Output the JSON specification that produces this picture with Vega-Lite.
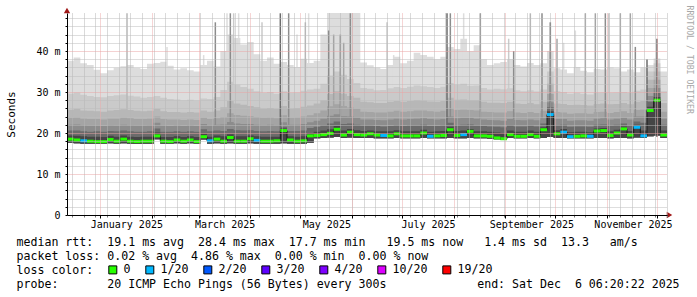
{
 "$schema": "https://vega.github.io/schema/vega-lite/v6.json",
 "width": 600,
 "height": 202,
 "autosize": {"type": "none"},
 "padding": {"left": 67, "top": 13, "right": 30, "bottom": 82},
 "background": "#ffffff",
 "config": {"view": {"stroke": null}, "font": "DejaVu Sans Mono"},
 "datasets": {
  "smoke": [
   {"t":"2024-12-12","lo":17.6,"p1":37.6,"p2":29.6,"p3":25.7,"p4":23.7,"p5":22.0,"p6":20.6,"p7":19.4,"md":18.5,"loss":"0"},
   {"t":"2024-12-16","lo":17.5,"p1":38.4,"p2":29.9,"p3":25.9,"p4":23.8,"p5":22.1,"p6":20.6,"p7":19.3,"md":18.3,"loss":"0"},
   {"t":"2024-12-20","lo":17.4,"p1":37.0,"p2":29.3,"p3":25.5,"p4":23.5,"p5":21.9,"p6":20.4,"p7":19.2,"md":18.1,"loss":"1/20"},
   {"t":"2024-12-24","lo":17.4,"p1":36.6,"p2":29.0,"p3":25.4,"p4":23.4,"p5":21.8,"p6":20.3,"p7":19.1,"md":18.0,"loss":"0"},
   {"t":"2024-12-28","lo":17.4,"p1":35.4,"p2":28.8,"p3":25.3,"p4":23.4,"p5":21.8,"p6":20.4,"p7":19.1,"md":17.9,"loss":"0"},
   {"t":"2025-01-01","lo":17.4,"p1":34.6,"p2":28.7,"p3":25.2,"p4":23.3,"p5":21.7,"p6":20.3,"p7":19.0,"md":17.9,"loss":"0"},
   {"t":"2025-01-05","lo":17.5,"p1":35.3,"p2":29.0,"p3":25.5,"p4":23.5,"p5":21.9,"p6":20.5,"p7":19.3,"md":18.4,"loss":"0"},
   {"t":"2025-01-09","lo":17.4,"p1":35.9,"p2":29.2,"p3":25.6,"p4":23.5,"p5":21.8,"p6":20.4,"p7":19.1,"md":18.0,"loss":"0"},
   {"t":"2025-01-13","lo":17.5,"p1":36.3,"p2":29.4,"p3":25.8,"p4":23.7,"p5":22.0,"p6":20.6,"p7":19.4,"md":18.5,"loss":"0"},
   {"t":"2025-01-17","lo":17.4,"p1":36.6,"p2":29.1,"p3":25.6,"p4":23.6,"p5":21.9,"p6":20.4,"p7":19.1,"md":18.0,"loss":"0"},
   {"t":"2025-01-21","lo":17.3,"p1":35.9,"p2":28.9,"p3":25.4,"p4":23.4,"p5":21.8,"p6":20.3,"p7":19.0,"md":17.9,"loss":"0"},
   {"t":"2025-01-25","lo":17.4,"p1":35.6,"p2":28.6,"p3":25.3,"p4":23.4,"p5":21.8,"p6":20.3,"p7":19.1,"md":18.0,"loss":"0"},
   {"t":"2025-01-29","lo":17.4,"p1":36.9,"p2":28.8,"p3":25.4,"p4":23.5,"p5":21.9,"p6":20.4,"p7":19.1,"md":18.0,"loss":"0"},
   {"t":"2025-02-02","lo":18.5,"p1":37.1,"p2":29.0,"p3":25.9,"p4":24.0,"p5":22.5,"p6":21.1,"p7":20.1,"md":19.3,"loss":"0"},
   {"t":"2025-02-06","lo":17.4,"p1":37.4,"p2":28.6,"p3":25.3,"p4":23.4,"p5":21.8,"p6":20.3,"p7":19.0,"md":18.0,"loss":"0"},
   {"t":"2025-02-10","lo":17.4,"p1":36.4,"p2":28.3,"p3":25.1,"p4":23.3,"p5":21.7,"p6":20.3,"p7":19.0,"md":17.9,"loss":"0"},
   {"t":"2025-02-14","lo":17.5,"p1":35.5,"p2":28.2,"p3":25.1,"p4":23.3,"p5":21.8,"p6":20.4,"p7":19.2,"md":18.3,"loss":"0"},
   {"t":"2025-02-18","lo":17.4,"p1":35.8,"p2":28.0,"p3":25.0,"p4":23.2,"p5":21.7,"p6":20.3,"p7":19.0,"md":18.0,"loss":"0"},
   {"t":"2025-02-22","lo":17.5,"p1":35.3,"p2":28.1,"p3":25.1,"p4":23.3,"p5":21.8,"p6":20.4,"p7":19.2,"md":18.3,"loss":"0"},
   {"t":"2025-02-26","lo":17.4,"p1":35.0,"p2":27.9,"p3":25.0,"p4":23.2,"p5":21.7,"p6":20.3,"p7":19.0,"md":17.9,"loss":"0"},
   {"t":"2025-03-02","lo":18.4,"p1":36.6,"p2":28.4,"p3":25.5,"p4":23.7,"p5":22.2,"p6":20.9,"p7":19.8,"md":19.1,"loss":"0"},
   {"t":"2025-03-06","lo":17.4,"p1":37.6,"p2":28.3,"p3":25.2,"p4":23.4,"p5":21.8,"p6":20.4,"p7":19.1,"md":18.1,"loss":"1/20"},
   {"t":"2025-03-10","lo":17.5,"p1":36.2,"p2":28.8,"p3":25.5,"p4":23.6,"p5":22.0,"p6":20.6,"p7":19.4,"md":18.5,"loss":"0"},
   {"t":"2025-03-14","lo":17.4,"p1":40.0,"p2":30.5,"p3":26.3,"p4":23.9,"p5":22.1,"p6":20.5,"p7":19.2,"md":18.0,"loss":"0"},
   {"t":"2025-03-18","lo":17.5,"p1":44.0,"p2":32.5,"p3":27.8,"p4":24.8,"p5":22.7,"p6":21.0,"p7":19.7,"md":18.9,"loss":"0"},
   {"t":"2025-03-22","lo":17.4,"p1":43.2,"p2":31.8,"p3":27.2,"p4":24.4,"p5":22.3,"p6":20.7,"p7":19.2,"md":18.0,"loss":"0"},
   {"t":"2025-03-26","lo":17.4,"p1":41.6,"p2":31.2,"p3":26.9,"p4":24.2,"p5":22.2,"p6":20.6,"p7":19.2,"md":18.0,"loss":"0"},
   {"t":"2025-03-30","lo":17.5,"p1":42.2,"p2":30.8,"p3":26.6,"p4":24.1,"p5":22.2,"p6":20.7,"p7":19.4,"md":18.6,"loss":"0"},
   {"t":"2025-04-03","lo":17.4,"p1":39.2,"p2":30.2,"p3":26.3,"p4":23.9,"p5":22.0,"p6":20.5,"p7":19.2,"md":18.2,"loss":"1/20"},
   {"t":"2025-04-07","lo":17.4,"p1":37.6,"p2":29.8,"p3":26.0,"p4":23.7,"p5":21.9,"p6":20.4,"p7":19.1,"md":18.0,"loss":"0"},
   {"t":"2025-04-11","lo":17.4,"p1":38.4,"p2":30.0,"p3":26.1,"p4":23.8,"p5":22.0,"p6":20.5,"p7":19.1,"md":18.0,"loss":"0"},
   {"t":"2025-04-15","lo":17.4,"p1":36.9,"p2":29.6,"p3":25.9,"p4":23.6,"p5":21.9,"p6":20.4,"p7":19.1,"md":18.1,"loss":"0"},
   {"t":"2025-04-19","lo":17.5,"p1":37.3,"p2":30.2,"p3":26.6,"p4":24.3,"p5":22.6,"p6":21.5,"p7":21.1,"md":20.6,"loss":"0"},
   {"t":"2025-04-23","lo":17.4,"p1":36.6,"p2":29.8,"p3":26.0,"p4":23.7,"p5":22.0,"p6":20.5,"p7":19.2,"md":18.3,"loss":"0"},
   {"t":"2025-04-27","lo":17.4,"p1":36.1,"p2":29.9,"p3":26.1,"p4":23.8,"p5":22.0,"p6":20.5,"p7":19.1,"md":18.0,"loss":"0"},
   {"t":"2025-05-01","lo":17.4,"p1":38.1,"p2":30.3,"p3":26.4,"p4":24.0,"p5":22.2,"p6":20.6,"p7":19.2,"md":18.1,"loss":"0"},
   {"t":"2025-05-05","lo":17.6,"p1":37.1,"p2":30.6,"p3":26.7,"p4":24.3,"p5":22.6,"p6":21.2,"p7":20.0,"md":19.3,"loss":"0"},
   {"t":"2025-05-09","lo":18.7,"p1":37.6,"p2":30.8,"p3":27.2,"p4":24.8,"p5":23.0,"p6":21.5,"p7":20.3,"md":19.4,"loss":"0"},
   {"t":"2025-05-13","lo":18.8,"p1":44.0,"p2":32.0,"p3":28.0,"p4":25.5,"p5":23.5,"p6":21.9,"p7":20.6,"md":19.6,"loss":"0"},
   {"t":"2025-05-17","lo":18.9,"p1":49.3,"p2":34.0,"p3":29.5,"p4":26.5,"p5":24.2,"p6":22.3,"p7":20.9,"md":19.9,"loss":"0"},
   {"t":"2025-05-21","lo":19.0,"p1":49.3,"p2":35.0,"p3":30.2,"p4":27.0,"p5":24.6,"p6":22.8,"p7":21.7,"md":20.9,"loss":"0"},
   {"t":"2025-05-25","lo":18.8,"p1":49.3,"p2":34.2,"p3":29.6,"p4":26.6,"p5":24.1,"p6":22.2,"p7":20.6,"md":19.5,"loss":"0"},
   {"t":"2025-05-29","lo":18.9,"p1":49.3,"p2":33.2,"p3":29.0,"p4":26.2,"p5":24.0,"p6":22.3,"p7":21.0,"md":20.2,"loss":"0"},
   {"t":"2025-06-02","lo":18.8,"p1":49.3,"p2":32.2,"p3":28.6,"p4":25.9,"p5":23.8,"p6":22.0,"p7":20.7,"md":19.6,"loss":"0"},
   {"t":"2025-06-06","lo":18.8,"p1":37.2,"p2":31.0,"p3":27.6,"p4":25.2,"p5":23.3,"p6":21.8,"p7":20.5,"md":19.5,"loss":"0"},
   {"t":"2025-06-10","lo":18.8,"p1":36.5,"p2":30.8,"p3":27.5,"p4":25.1,"p5":23.3,"p6":21.8,"p7":20.6,"md":19.8,"loss":"0"},
   {"t":"2025-06-14","lo":18.7,"p1":36.0,"p2":30.4,"p3":27.3,"p4":25.0,"p5":23.2,"p6":21.7,"p7":20.4,"md":19.5,"loss":"0"},
   {"t":"2025-06-18","lo":18.7,"p1":35.6,"p2":30.5,"p3":27.3,"p4":25.0,"p5":23.1,"p6":21.6,"p7":20.4,"md":19.4,"loss":"1/20"},
   {"t":"2025-06-22","lo":18.7,"p1":36.6,"p2":30.9,"p3":27.6,"p4":25.2,"p5":23.3,"p6":21.7,"p7":20.4,"md":19.3,"loss":"0"},
   {"t":"2025-06-26","lo":18.8,"p1":38.6,"p2":31.2,"p3":27.8,"p4":25.4,"p5":23.5,"p6":21.9,"p7":20.7,"md":19.8,"loss":"0"},
   {"t":"2025-06-30","lo":18.7,"p1":37.0,"p2":31.0,"p3":27.6,"p4":25.2,"p5":23.3,"p6":21.7,"p7":20.4,"md":19.3,"loss":"0"},
   {"t":"2025-07-04","lo":18.7,"p1":37.6,"p2":31.3,"p3":27.8,"p4":25.3,"p5":23.4,"p6":21.8,"p7":20.4,"md":19.3,"loss":"0"},
   {"t":"2025-07-08","lo":18.7,"p1":39.6,"p2":31.6,"p3":28.0,"p4":25.5,"p5":23.5,"p6":21.8,"p7":20.4,"md":19.3,"loss":"0"},
   {"t":"2025-07-12","lo":18.8,"p1":39.0,"p2":31.4,"p3":27.9,"p4":25.5,"p5":23.6,"p6":22.0,"p7":20.8,"md":20.0,"loss":"0"},
   {"t":"2025-07-16","lo":18.7,"p1":38.6,"p2":31.2,"p3":27.7,"p4":25.3,"p5":23.4,"p6":21.7,"p7":20.3,"md":19.2,"loss":"1/20"},
   {"t":"2025-07-20","lo":18.7,"p1":38.0,"p2":31.0,"p3":27.6,"p4":25.2,"p5":23.3,"p6":21.7,"p7":20.4,"md":19.3,"loss":"0"},
   {"t":"2025-07-24","lo":18.7,"p1":38.6,"p2":31.3,"p3":27.8,"p4":25.4,"p5":23.4,"p6":21.8,"p7":20.5,"md":19.4,"loss":"0"},
   {"t":"2025-07-28","lo":18.8,"p1":41.0,"p2":32.2,"p3":28.6,"p4":26.0,"p5":24.0,"p6":22.5,"p7":21.5,"md":20.8,"loss":"0"},
   {"t":"2025-08-01","lo":18.7,"p1":40.5,"p2":31.8,"p3":28.1,"p4":25.6,"p5":23.6,"p6":21.9,"p7":20.5,"md":19.4,"loss":"0"},
   {"t":"2025-08-05","lo":18.7,"p1":43.0,"p2":32.0,"p3":28.2,"p4":25.7,"p5":23.7,"p6":22.0,"p7":20.6,"md":19.6,"loss":"1/20"},
   {"t":"2025-08-09","lo":18.8,"p1":40.0,"p2":31.5,"p3":28.0,"p4":25.6,"p5":23.7,"p6":22.1,"p7":21.0,"md":20.4,"loss":"0"},
   {"t":"2025-08-13","lo":18.7,"p1":41.4,"p2":31.6,"p3":28.0,"p4":25.5,"p5":23.5,"p6":21.8,"p7":20.4,"md":19.3,"loss":"0"},
   {"t":"2025-08-17","lo":18.7,"p1":38.0,"p2":31.0,"p3":27.6,"p4":25.2,"p5":23.3,"p6":21.7,"p7":20.4,"md":19.3,"loss":"0"},
   {"t":"2025-08-21","lo":18.6,"p1":36.6,"p2":30.6,"p3":27.4,"p4":25.1,"p5":23.2,"p6":21.6,"p7":20.3,"md":19.2,"loss":"0"},
   {"t":"2025-08-25","lo":18.5,"p1":37.0,"p2":30.8,"p3":27.4,"p4":25.0,"p5":23.1,"p6":21.5,"p7":20.1,"md":18.8,"loss":"0"},
   {"t":"2025-08-29","lo":18.3,"p1":37.3,"p2":30.7,"p3":27.3,"p4":25.0,"p5":23.0,"p6":21.4,"p7":20.0,"md":18.6,"loss":"0"},
   {"t":"2025-09-02","lo":18.8,"p1":38.0,"p2":30.9,"p3":27.6,"p4":25.3,"p5":23.4,"p6":21.9,"p7":20.6,"md":19.6,"loss":"0"},
   {"t":"2025-09-06","lo":18.7,"p1":36.6,"p2":30.4,"p3":27.2,"p4":25.0,"p5":23.2,"p6":21.6,"p7":20.3,"md":19.2,"loss":"0"},
   {"t":"2025-09-10","lo":18.7,"p1":36.2,"p2":30.2,"p3":27.1,"p4":24.9,"p5":23.1,"p6":21.6,"p7":20.3,"md":19.2,"loss":"0"},
   {"t":"2025-09-14","lo":18.8,"p1":37.1,"p2":30.4,"p3":27.3,"p4":25.1,"p5":23.3,"p6":21.8,"p7":20.6,"md":19.6,"loss":"0"},
   {"t":"2025-09-18","lo":18.7,"p1":36.6,"p2":30.1,"p3":27.0,"p4":24.9,"p5":23.1,"p6":21.6,"p7":20.3,"md":19.2,"loss":"0"},
   {"t":"2025-09-22","lo":18.8,"p1":37.0,"p2":30.6,"p3":27.6,"p4":25.4,"p5":23.6,"p6":22.3,"p7":21.4,"md":20.8,"loss":"0"},
   {"t":"2025-09-26","lo":19.0,"p1":40.0,"p2":35.0,"p3":32.0,"p4":29.5,"p5":27.5,"p6":26.3,"p7":25.3,"md":24.5,"loss":"1/20"},
   {"t":"2025-09-30","lo":18.8,"p1":35.8,"p2":30.2,"p3":27.2,"p4":25.1,"p5":23.4,"p6":21.9,"p7":20.7,"md":19.8,"loss":"0"},
   {"t":"2025-10-04","lo":18.8,"p1":35.5,"p2":30.0,"p3":27.1,"p4":25.0,"p5":23.4,"p6":22.0,"p7":21.0,"md":20.2,"loss":"1/20"},
   {"t":"2025-10-08","lo":18.7,"p1":34.6,"p2":29.6,"p3":26.8,"p4":24.7,"p5":23.0,"p6":21.5,"p7":20.2,"md":19.1,"loss":"1/20"},
   {"t":"2025-10-12","lo":18.7,"p1":36.1,"p2":29.8,"p3":26.9,"p4":24.8,"p5":23.1,"p6":21.6,"p7":20.3,"md":19.2,"loss":"0"},
   {"t":"2025-10-16","lo":18.7,"p1":35.2,"p2":29.6,"p3":26.8,"p4":24.8,"p5":23.1,"p6":21.6,"p7":20.3,"md":19.3,"loss":"0"},
   {"t":"2025-10-20","lo":18.7,"p1":34.8,"p2":29.4,"p3":26.7,"p4":24.7,"p5":23.0,"p6":21.5,"p7":20.2,"md":19.2,"loss":"1/20"},
   {"t":"2025-10-24","lo":18.8,"p1":35.6,"p2":29.8,"p3":27.1,"p4":25.1,"p5":23.5,"p6":22.0,"p7":21.1,"md":20.5,"loss":"0"},
   {"t":"2025-10-28","lo":18.8,"p1":35.5,"p2":29.9,"p3":27.2,"p4":25.2,"p5":23.6,"p6":22.1,"p7":21.2,"md":20.6,"loss":"0"},
   {"t":"2025-11-01","lo":18.7,"p1":36.0,"p2":29.8,"p3":27.0,"p4":24.9,"p5":23.3,"p6":21.8,"p7":20.4,"md":19.4,"loss":"0"},
   {"t":"2025-11-05","lo":18.8,"p1":35.8,"p2":29.9,"p3":27.1,"p4":25.1,"p5":23.5,"p6":22.0,"p7":20.8,"md":20.0,"loss":"0"},
   {"t":"2025-11-09","lo":18.8,"p1":35.0,"p2":30.0,"p3":27.3,"p4":25.3,"p5":23.7,"p6":22.3,"p7":21.6,"md":21.0,"loss":"0"},
   {"t":"2025-11-13","lo":18.7,"p1":35.5,"p2":29.8,"p3":27.0,"p4":24.9,"p5":23.3,"p6":21.8,"p7":20.5,"md":19.5,"loss":"0"},
   {"t":"2025-11-17","lo":18.9,"p1":34.8,"p2":30.3,"p3":27.6,"p4":25.6,"p5":24.0,"p6":22.8,"p7":22.0,"md":21.4,"loss":"1/20"},
   {"t":"2025-11-21","lo":18.8,"p1":36.0,"p2":30.6,"p3":27.8,"p4":25.7,"p5":24.0,"p6":22.5,"p7":20.6,"md":19.3,"loss":"1/20"},
   {"t":"2025-11-25","lo":19.2,"p1":36.6,"p2":35.0,"p3":33.0,"p4":31.0,"p5":29.0,"p6":27.6,"p7":26.4,"md":25.5,"loss":"0"},
   {"t":"2025-11-29","lo":19.4,"p1":38.2,"p2":37.0,"p3":35.0,"p4":33.0,"p5":31.0,"p6":29.8,"p7":28.8,"md":28.0,"loss":"0"},
   {"t":"2025-12-03","lo":18.8,"p1":35.0,"p2":30.2,"p3":27.3,"p4":25.2,"p5":23.5,"p6":22.0,"p7":20.6,"md":19.5,"loss":"0"},
   {"t":"2025-12-07","lo":18.8,"p1":35.0,"p2":30.2,"p3":27.3,"p4":25.2,"p5":23.5,"p6":22.0,"p7":20.6,"md":19.5}
  ],
  "spikes": [
   {"t":"2025-01-17","v":49.2,"lvl":3},
   {"t":"2025-02-10","v":41,"lvl":1},
   {"t":"2025-03-04","v":39,"lvl":1},
   {"t":"2025-03-11","v":47,"lvl":5},
   {"t":"2025-03-18","v":49.2,"lvl":1},
   {"t":"2025-03-20","v":49.2,"lvl":5},
   {"t":"2025-03-22","v":49.2,"lvl":2},
   {"t":"2025-03-25","v":49.2,"lvl":1},
   {"t":"2025-04-08","v":47,"lvl":2},
   {"t":"2025-04-19","v":49.2,"lvl":6},
   {"t":"2025-04-24","v":49.2,"lvl":5},
   {"t":"2025-04-29","v":44,"lvl":1},
   {"t":"2025-05-04","v":47,"lvl":3},
   {"t":"2025-05-06","v":49.2,"lvl":1},
   {"t":"2025-05-18","v":45,"lvl":5},
   {"t":"2025-05-21","v":44,"lvl":4},
   {"t":"2025-05-25","v":44,"lvl":5},
   {"t":"2025-05-27","v":42,"lvl":4},
   {"t":"2025-05-31","v":49.2,"lvl":5},
   {"t":"2025-06-22","v":47,"lvl":2},
   {"t":"2025-06-26","v":39,"lvl":1},
   {"t":"2025-07-28","v":49.2,"lvl":6},
   {"t":"2025-07-30","v":49.2,"lvl":5},
   {"t":"2025-08-07","v":49.2,"lvl":1},
   {"t":"2025-08-17","v":49.2,"lvl":5},
   {"t":"2025-09-03","v":43,"lvl":2},
   {"t":"2025-09-06","v":40,"lvl":5},
   {"t":"2025-09-16","v":49.2,"lvl":3},
   {"t":"2025-09-23","v":49.2,"lvl":5},
   {"t":"2025-09-28","v":47,"lvl":6},
   {"t":"2025-10-02","v":43,"lvl":4},
   {"t":"2025-10-06","v":42,"lvl":1},
   {"t":"2025-10-13","v":45,"lvl":1},
   {"t":"2025-10-19","v":49.2,"lvl":4},
   {"t":"2025-10-25","v":49.2,"lvl":4},
   {"t":"2025-10-31","v":49.2,"lvl":5},
   {"t":"2025-11-02","v":49.2,"lvl":2},
   {"t":"2025-11-09","v":49.2,"lvl":4},
   {"t":"2025-11-15","v":49.2,"lvl":4},
   {"t":"2025-11-18","v":41,"lvl":5},
   {"t":"2025-11-25","v":38,"lvl":6},
   {"t":"2025-12-01","v":43,"lvl":6}
  ],
  "arrows": [
   {"t":"2024-12-12","v":49.9,"dir":"up"},
   {"t":"2025-12-08T12:00:00Z","v":0,"dir":"right"}
  ]
 },
 "resolve": {"axis": {"x": "independent", "y": "independent"}},
 "layer": [
  {
   "data": {"name": "smoke"},
   "mark": {"type": "area", "interpolate": "step-after", "color": "#dddddd"},
   "encoding": {
    "x": {"field": "t", "type": "temporal",
     "scale": {"type": "utc", "domain": [{"year": 2024, "month": 12, "date": 12, "utc": true}, {"year": 2025, "month": 12, "date": 7, "utc": true}], "nice": false},
     "axis": {"orient": "bottom", "tickCount": {"interval": "week", "step": 1}, "labels": false, "ticks": true, "tickSize": 2, "tickColor": "#777777", "domain": false, "grid": true, "gridColor": "#b4b4b4", "gridDash": [1, 1], "gridWidth": 1, "title": null, "zindex": 1}},
    "y": {"field": "p1", "type": "quantitative",
     "scale": {"domain": [0, 49.27], "nice": false, "zero": false},
     "axis": {"orient": "left", "values": [0, 2, 4, 6, 8, 10, 12, 14, 16, 18, 20, 22, 24, 26, 28, 30, 32, 34, 36, 38, 40, 42, 44, 46, 48],
      "labelExpr": "datum.value % 10 == 0 ? (datum.value == 0 ? '0\u00a0\u00a0' : datum.value + '\u00a0m') : ''",
      "labelFont": "DejaVu Sans Mono", "labelFontSize": 10, "labelColor": "#000000", "labelPadding": 5, "labelOverlap": false, "labelBaseline": "middle", "labelAlign": "right",
      "ticks": true, "tickSize": 2, "tickColor": "#000000", "domain": true, "domainColor": "#000000", "domainWidth": 1,
      "grid": true, "gridColor": {"condition": {"test": "datum.value % 10 == 0", "value": "#e8a4a4"}, "value": "#bcbcbc"}, "gridDash": [1, 1], "gridWidth": 1,
      "title": "Seconds", "titleX": -56, "titleY": 101, "titleAngle": 270, "titleAlign": "center", "titleBaseline": "middle", "titleFont": "DejaVu Sans Mono", "titleFontSize": 11, "titleFontWeight": "normal", "titleColor": "#000000", "zindex": 1}},
    "y2": {"field": "lo"}
   }
  },
  {
   "data": {"name": "spikes"},
   "transform": [{"filter": "datum.lvl == 1"}],
   "mark": {"type": "rule", "color": "#dddddd", "strokeWidth": 1.5},
   "encoding": {
    "x": {"field": "t", "type": "temporal", "scale": {"type": "utc", "domain": [{"year": 2024, "month": 12, "date": 12, "utc": true}, {"year": 2025, "month": 12, "date": 7, "utc": true}], "nice": false}, "axis": null},
    "y": {"field": "v", "type": "quantitative", "scale": {"domain": [0, 49.27], "nice": false, "zero": false}, "axis": null},
    "y2": {"datum": 19}
   }
  },
  {
   "data": {"name": "smoke"},
   "mark": {"type": "area", "interpolate": "step-after", "color": "#cacaca"},
   "encoding": {
    "x": {"field": "t", "type": "temporal", "scale": {"type": "utc", "domain": [{"year": 2024, "month": 12, "date": 12, "utc": true}, {"year": 2025, "month": 12, "date": 7, "utc": true}], "nice": false}, "axis": null},
    "y": {"field": "p2", "type": "quantitative", "scale": {"domain": [0, 49.27], "nice": false, "zero": false}, "axis": null},
    "y2": {"field": "lo"}
   }
  },
  {
   "data": {"name": "spikes"},
   "transform": [{"filter": "datum.lvl == 2"}],
   "mark": {"type": "rule", "color": "#cacaca", "strokeWidth": 1.5},
   "encoding": {
    "x": {"field": "t", "type": "temporal", "scale": {"type": "utc", "domain": [{"year": 2024, "month": 12, "date": 12, "utc": true}, {"year": 2025, "month": 12, "date": 7, "utc": true}], "nice": false}, "axis": null},
    "y": {"field": "v", "type": "quantitative", "scale": {"domain": [0, 49.27], "nice": false, "zero": false}, "axis": null},
    "y2": {"datum": 19}
   }
  },
  {
   "data": {"name": "smoke"},
   "mark": {"type": "area", "interpolate": "step-after", "color": "#b7b7b7"},
   "encoding": {
    "x": {"field": "t", "type": "temporal", "scale": {"type": "utc", "domain": [{"year": 2024, "month": 12, "date": 12, "utc": true}, {"year": 2025, "month": 12, "date": 7, "utc": true}], "nice": false}, "axis": null},
    "y": {"field": "p3", "type": "quantitative", "scale": {"domain": [0, 49.27], "nice": false, "zero": false}, "axis": null},
    "y2": {"field": "lo"}
   }
  },
  {
   "data": {"name": "spikes"},
   "transform": [{"filter": "datum.lvl == 3"}],
   "mark": {"type": "rule", "color": "#b7b7b7", "strokeWidth": 1.5},
   "encoding": {
    "x": {"field": "t", "type": "temporal", "scale": {"type": "utc", "domain": [{"year": 2024, "month": 12, "date": 12, "utc": true}, {"year": 2025, "month": 12, "date": 7, "utc": true}], "nice": false}, "axis": null},
    "y": {"field": "v", "type": "quantitative", "scale": {"domain": [0, 49.27], "nice": false, "zero": false}, "axis": null},
    "y2": {"datum": 19}
   }
  },
  {
   "data": {"name": "smoke"},
   "mark": {"type": "area", "interpolate": "step-after", "color": "#a4a4a4"},
   "encoding": {
    "x": {"field": "t", "type": "temporal", "scale": {"type": "utc", "domain": [{"year": 2024, "month": 12, "date": 12, "utc": true}, {"year": 2025, "month": 12, "date": 7, "utc": true}], "nice": false}, "axis": null},
    "y": {"field": "p4", "type": "quantitative", "scale": {"domain": [0, 49.27], "nice": false, "zero": false}, "axis": null},
    "y2": {"field": "lo"}
   }
  },
  {
   "data": {"name": "spikes"},
   "transform": [{"filter": "datum.lvl == 4"}],
   "mark": {"type": "rule", "color": "#a4a4a4", "strokeWidth": 1.5},
   "encoding": {
    "x": {"field": "t", "type": "temporal", "scale": {"type": "utc", "domain": [{"year": 2024, "month": 12, "date": 12, "utc": true}, {"year": 2025, "month": 12, "date": 7, "utc": true}], "nice": false}, "axis": null},
    "y": {"field": "v", "type": "quantitative", "scale": {"domain": [0, 49.27], "nice": false, "zero": false}, "axis": null},
    "y2": {"datum": 19}
   }
  },
  {
   "data": {"name": "smoke"},
   "mark": {"type": "area", "interpolate": "step-after", "color": "#8c8c8c"},
   "encoding": {
    "x": {"field": "t", "type": "temporal", "scale": {"type": "utc", "domain": [{"year": 2024, "month": 12, "date": 12, "utc": true}, {"year": 2025, "month": 12, "date": 7, "utc": true}], "nice": false}, "axis": null},
    "y": {"field": "p5", "type": "quantitative", "scale": {"domain": [0, 49.27], "nice": false, "zero": false}, "axis": null},
    "y2": {"field": "lo"}
   }
  },
  {
   "data": {"name": "spikes"},
   "transform": [{"filter": "datum.lvl == 5"}],
   "mark": {"type": "rule", "color": "#8c8c8c", "strokeWidth": 1.5},
   "encoding": {
    "x": {"field": "t", "type": "temporal", "scale": {"type": "utc", "domain": [{"year": 2024, "month": 12, "date": 12, "utc": true}, {"year": 2025, "month": 12, "date": 7, "utc": true}], "nice": false}, "axis": null},
    "y": {"field": "v", "type": "quantitative", "scale": {"domain": [0, 49.27], "nice": false, "zero": false}, "axis": null},
    "y2": {"datum": 19}
   }
  },
  {
   "data": {"name": "smoke"},
   "mark": {"type": "area", "interpolate": "step-after", "color": "#6b6b6b"},
   "encoding": {
    "x": {"field": "t", "type": "temporal", "scale": {"type": "utc", "domain": [{"year": 2024, "month": 12, "date": 12, "utc": true}, {"year": 2025, "month": 12, "date": 7, "utc": true}], "nice": false}, "axis": null},
    "y": {"field": "p6", "type": "quantitative", "scale": {"domain": [0, 49.27], "nice": false, "zero": false}, "axis": null},
    "y2": {"field": "lo"}
   }
  },
  {
   "data": {"name": "spikes"},
   "transform": [{"filter": "datum.lvl == 6"}],
   "mark": {"type": "rule", "color": "#6b6b6b", "strokeWidth": 1.5},
   "encoding": {
    "x": {"field": "t", "type": "temporal", "scale": {"type": "utc", "domain": [{"year": 2024, "month": 12, "date": 12, "utc": true}, {"year": 2025, "month": 12, "date": 7, "utc": true}], "nice": false}, "axis": null},
    "y": {"field": "v", "type": "quantitative", "scale": {"domain": [0, 49.27], "nice": false, "zero": false}, "axis": null},
    "y2": {"datum": 19}
   }
  },
  {
   "data": {"name": "smoke"},
   "mark": {"type": "area", "interpolate": "step-after", "color": "#454545"},
   "encoding": {
    "x": {"field": "t", "type": "temporal", "scale": {"type": "utc", "domain": [{"year": 2024, "month": 12, "date": 12, "utc": true}, {"year": 2025, "month": 12, "date": 7, "utc": true}], "nice": false}, "axis": null},
    "y": {"field": "p7", "type": "quantitative", "scale": {"domain": [0, 49.27], "nice": false, "zero": false}, "axis": null},
    "y2": {"field": "lo"}
   }
  },
  {
   "data": {"name": "smoke"},
   "mark": {"type": "line", "interpolate": "step-after", "color": "#1a1a1a", "strokeWidth": 1},
   "encoding": {
    "x": {"field": "t", "type": "temporal", "scale": {"type": "utc", "domain": [{"year": 2024, "month": 12, "date": 12, "utc": true}, {"year": 2025, "month": 12, "date": 7, "utc": true}], "nice": false}, "axis": null},
    "y": {"field": "md", "type": "quantitative", "scale": {"domain": [0, 49.27], "nice": false, "zero": false}, "axis": null}
   }
  },
  {
   "data": {"name": "smoke"},
   "transform": [{"filter": "isValid(datum.loss)"}],
   "mark": {"type": "point", "shape": "M-1,-0.45L1,-0.45L1,0.45L-1,0.45Z", "filled": true, "size": 44.4, "opacity": 1, "strokeWidth": 0, "xOffset": 3.33},
   "encoding": {
    "x": {"field": "t", "type": "temporal",
     "scale": {"type": "utc", "domain": [{"year": 2024, "month": 12, "date": 12, "utc": true}, {"year": 2025, "month": 12, "date": 7, "utc": true}], "nice": false},
     "axis": {"orient": "bottom", "tickCount": {"interval": "month", "step": 1},
      "labelExpr": "utcmonth(datum.value) % 2 == 0 ? utcFormat(datum.value, '%B %Y') : ''",
      "labelOffset": 26, "labelFont": "DejaVu Sans Mono", "labelFontSize": 10, "labelColor": "#000000", "labelPadding": 1, "labelOverlap": false, "labelBound": false, "labelFlush": false, "labelBaseline": "top", "labelAlign": "center",
      "ticks": true, "tickSize": 3, "tickColor": "#000000", "domain": true, "domainColor": "#000000", "domainWidth": 1,
      "grid": true, "gridColor": "#ecaaaa", "gridDash": [1, 1], "gridWidth": 1,
      "title": [
       "median\u00a0rtt:\u00a0\u00a019.1\u00a0ms\u00a0avg\u00a0\u00a028.4\u00a0ms\u00a0max\u00a0\u00a017.7\u00a0ms\u00a0min\u00a0\u00a0\u00a019.5\u00a0ms\u00a0now\u00a0\u00a0\u00a01.4\u00a0ms\u00a0sd\u00a0\u00a013.3\u00a0\u00a0\u00a0am/s",
       "packet\u00a0loss:\u00a00.02\u00a0%\u00a0avg\u00a0\u00a04.86\u00a0%\u00a0max\u00a0\u00a00.00\u00a0%\u00a0min\u00a0\u00a00.00\u00a0%\u00a0now",
       "loss\u00a0color:",
       "probe:\u00a0\u00a0\u00a0\u00a0\u00a0\u00a0\u00a020\u00a0ICMP\u00a0Echo\u00a0Pings\u00a0(56\u00a0Bytes)\u00a0every\u00a0300s\u00a0\u00a0\u00a0\u00a0\u00a0\u00a0\u00a0\u00a0\u00a0\u00a0\u00a0\u00a0\u00a0end:\u00a0Sat\u00a0Dec\u00a0\u00a06\u00a006:20:22\u00a02025"
      ],
      "titleX": -51, "titleY": 30, "titleAlign": "left", "titleAnchor": "start", "titleBaseline": "alphabetic", "titleFont": "DejaVu Sans Mono", "titleFontSize": 11.6, "titleFontWeight": "normal", "titleLineHeight": 14, "titleColor": "#000000", "zindex": 1}},
    "y": {"field": "md", "type": "quantitative",
     "scale": {"domain": [0, 49.27], "nice": false, "zero": false},
     "axis": {"orient": "right", "labels": false, "ticks": false, "domain": false, "grid": false, "title": "RRDTOOL / TOBI OETIKER", "titleX": 21, "titleY": -8, "titleAngle": 90, "titleAlign": "left", "titleBaseline": "middle", "titleFont": "DejaVu Sans Mono", "titleFontSize": 8.2, "titleFontWeight": "normal", "titleColor": "#a8a8a8"}},
    "color": {"field": "loss", "type": "nominal",
     "scale": {"domain": ["0", "1/20", "2/20", "3/20", "4/20", "10/20", "19/20"], "range": ["#26ff00", "#00b8ff", "#0059ff", "#5e00ff", "#7e00ff", "#dd00ff", "#ff0000"]},
     "legend": {"orient": "none", "legendX": 40, "legendY": 251, "direction": "horizontal", "title": null, "symbolType": "square", "symbolSize": 64, "symbolStrokeColor": "#000000", "symbolStrokeWidth": 1, "symbolOpacity": 1, "labelFont": "DejaVu Sans Mono", "labelFontSize": 11.6, "labelColor": "#000000", "labelOffset": 5, "columnPadding": 12, "padding": 0,
      "encode": {"symbols": {"update": {"stroke": {"value": "#000000"}, "strokeWidth": {"value": 1}}}}}}
   }
  },
  {
   "data": {"name": "arrows"},
   "mark": {"type": "point", "filled": true, "size": 40, "opacity": 1, "color": "#a01818"},
   "encoding": {
    "x": {"field": "t", "type": "temporal", "scale": {"type": "utc", "domain": [{"year": 2024, "month": 12, "date": 12, "utc": true}, {"year": 2025, "month": 12, "date": 7, "utc": true}], "nice": false}, "axis": null},
    "y": {"field": "v", "type": "quantitative", "scale": {"domain": [0, 49.27], "nice": false, "zero": false}, "axis": null},
    "shape": {"field": "dir", "type": "nominal", "scale": {"domain": ["up", "right"], "range": ["triangle-up", "triangle-right"]}, "legend": null}
   }
  }
 ]
}
